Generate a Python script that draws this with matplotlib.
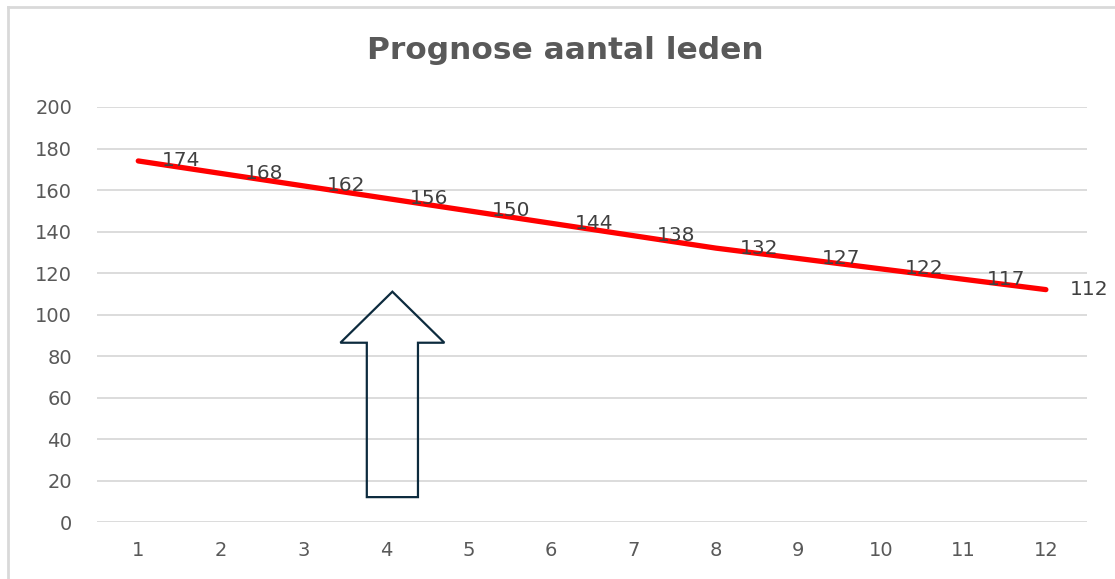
import matplotlib.pyplot as plt
from matplotlib.patches import FancyArrow
from matplotlib.lines import Line2D

# data
maanden = list(range(1, 13))
leden = [174, 168, 162, 156, 150, 144, 138, 132, 127, 122, 117, 112]
y_ticks = list(range(0, 201, 20))

# hollow arrow pointing up near month 4
arrow_x = 4.08
arrow_bottom = 12
arrow_top = 111

plt.rcParams['font.family'] = ['DejaVu Sans']
grey = "#595959"

fig = plt.figure(figsize=(11.15, 5.79), dpi=100)
ax = fig.add_axes([0.087, 0.0984, 0.888, 0.7168])

ax.plot(maanden, leden, color="#ff0000", lw=3.8, solid_capstyle="round", zorder=3)
for m, v in zip(maanden, leden):
    ax.annotate(str(v), (m, v), xytext=(17, 0), textcoords="offset points",
                ha="left", va="center", fontsize=14.5, color="#404040", zorder=4)

ax.add_patch(FancyArrow(arrow_x, arrow_bottom, 0, arrow_top - arrow_bottom,
                        width=0.62, head_width=1.26, head_length=24.6,
                        length_includes_head=True, fill=False,
                        edgecolor="#0d2b3e", lw=1.6, zorder=5))

ax.set_xlim(0.5, 12.5)
ax.set_ylim(0, 200)
ax.set_xticks(maanden)
ax.set_yticks(y_ticks)
ax.grid(axis="y", color="#d9d9d9", lw=1.3)
ax.set_axisbelow(True)
for s in ax.spines.values():
    s.set_visible(False)
ax.tick_params(length=0, labelsize=14, colors=grey)
ax.tick_params(axis="y", pad=18)
ax.tick_params(axis="x", pad=14)

fig.text(0.507, 0.912, "Prognose aantal leden", ha="center", va="center",
         fontsize=22.5, fontweight="bold", color=grey)

# chart border (only top and left visible in the crop)
fig.add_artist(Line2D([0.0072, 1.05], [0.988, 0.988], color="#d9d9d9", lw=2))
fig.add_artist(Line2D([0.0072, 0.0072], [-0.05, 0.988], color="#d9d9d9", lw=2))

fig.savefig("out.png", dpi=100)
